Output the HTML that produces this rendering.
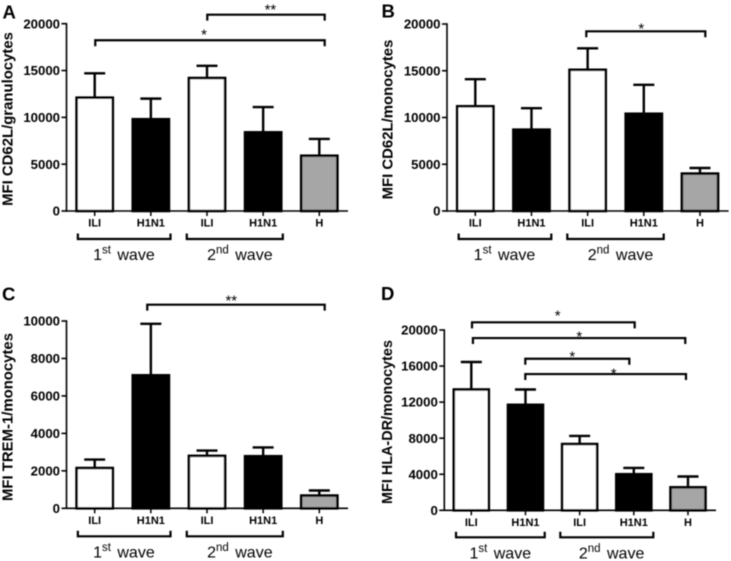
<!DOCTYPE html>
<html lang="en">
<head>
<meta charset="utf-8">
<title>MFI bar charts</title>
<style>
html,body{margin:0;padding:0;background:#fff;}
body{width:731px;height:561px;overflow:hidden;}
svg{display:block;}
text{font-family:"Liberation Sans",sans-serif;fill:#000;}
</style>
</head>
<body>
<svg id="figure" xmlns="http://www.w3.org/2000/svg" width="731" height="561" viewBox="0 0 731 561">
<defs><filter id="soft" x="0" y="0" width="100%" height="100%"><feGaussianBlur stdDeviation="0.4"/></filter></defs>
<g id="root" filter="url(#soft)"></g>
</svg>
<script>
const categories = ['ILI', 'H1N1', 'ILI', 'H1N1', 'H'];

const aTitle = 'MFI CD62L/granulocytes';
const aValues = [12100, 9800, 14200, 8400, 5900];
const aErrorTops = [14700, 12000, 15500, 11100, 7700];
const aTicks = [0, 5000, 10000, 15000, 20000];

const bTitle = 'MFI CD62L/monocytes';
const bValues = [11200, 8700, 15100, 10400, 4000];
const bErrorTops = [14100, 11000, 17400, 13500, 4600];
const bTicks = [0, 5000, 10000, 15000, 20000];

const cTitle = 'MFI TREM-1/monocytes';
const cValues = [2150, 7100, 2800, 2780, 680];
const cErrorTops = [2600, 9850, 3080, 3250, 950];
const cTicks = [0, 2000, 4000, 6000, 8000, 10000];

const dTitle = 'MFI HLA-DR/monocytes';
const dValues = [13400, 11700, 7350, 4000, 2550];
const dErrorTops = [16450, 13400, 8250, 4700, 3750];
const dTicks = [0, 4000, 8000, 12000, 16000, 20000];

const NS = 'http://www.w3.org/2000/svg';
const root = document.getElementById('root');

function make(parent, tag, attrs, name) {
  const el = document.createElementNS(NS, tag);
  for (const k in attrs) el.setAttribute(k, attrs[k]);
  
  
  parent.appendChild(el);
  return el;
}

function drawPanel(p) {
  const panel = make(root, 'g', {}, 'panel-' + p.letter.toLowerCase());
  const maxV = p.ticks[p.ticks.length - 1];
  const y = v => p.y0 - (v / maxV) * (p.y0 - p.yTop);
  const x = i => p.x0 + i * p.step;

  const letter = make(panel, 'text', {x: p.lx, y: p.ly, 'font-size': 18.5, 'font-weight': 'bold'}, 'panel-letter');
  letter.textContent = p.letter;

  p.values.forEach((v, i) => {
    const fill = i === 4 ? '#a6a6a6' : (i % 2 === 0 ? '#fff' : '#000');
    const w = p.barW;
    make(panel, 'line', {x1: x(i), x2: x(i), y1: y(p.tops[i]), y2: y(v), stroke: '#000', 'stroke-width': 2.4}, 'error-bar-' + i);
    make(panel, 'line', {x1: x(i) - 10.5, x2: x(i) + 10.5, y1: y(p.tops[i]), y2: y(p.tops[i]), stroke: '#000', 'stroke-width': 2.4}, 'error-cap-' + i);
    make(panel, 'rect', {x: x(i) - w / 2, y: y(v), width: w, height: p.y0 - y(v), fill: fill, stroke: '#000', 'stroke-width': 2.6}, 'bar-' + i);
    make(panel, 'line', {x1: x(i), x2: x(i), y1: p.y0, y2: p.y0 + 5, stroke: '#000', 'stroke-width': 1.5}, 'x-tick-' + i);
    const lab = make(panel, 'text', {x: x(i), y: p.y0 + 15.7, 'font-size': 11, 'font-weight': 'bold', 'text-anchor': 'middle'}, 'x-label-' + i);
    lab.textContent = categories[i];
  });

  make(panel, 'line', {x1: p.axisX, x2: p.axisX, y1: p.yTop - 0.7, y2: p.y0 + 0.7, stroke: '#000', 'stroke-width': 1.6}, 'y-axis');
  make(panel, 'line', {x1: p.axisX, x2: p.axisEnd, y1: p.y0, y2: p.y0, stroke: '#000', 'stroke-width': 1.6}, 'x-axis');

  p.ticks.forEach(t => {
    make(panel, 'line', {x1: p.axisX - 5, x2: p.axisX, y1: y(t), y2: y(t), stroke: '#000', 'stroke-width': 1.6}, 'y-tick-' + t);
    const lab = make(panel, 'text', {x: p.axisX - 6.5, y: y(t) + 4.6, 'font-size': 13.2, 'font-weight': 'bold', 'text-anchor': 'end'}, 'y-label-' + t);
    lab.textContent = String(t);
  });

  const title = make(panel, 'text', {
    x: 0, y: 0, 'font-size': p.titleSize, 'font-weight': 'bold', 'text-anchor': 'middle',
    transform: 'translate(' + p.titleX + ',' + p.titleY + ') rotate(-90)'
  }, 'y-axis-title');
  title.textContent = p.title;

  p.brackets.forEach((b, n) => {
    const by = y(b.value);
    make(panel, 'path', {
      d: 'M' + x(b.from) + ' ' + (by + 6) + 'V' + by + 'H' + x(b.to) + 'V' + (by + 6),
      fill: 'none', stroke: '#000', 'stroke-width': 2.2
    }, 'significance-bracket-' + n);
    const s = make(panel, 'text', {x: x(b.star), y: by + b.off + 8.7, 'font-size': 15, 'text-anchor': 'middle'}, 'significance-stars-' + n);
    s.textContent = b.mark;
  });

  p.waves.forEach((wv, n) => {
    const wy = p.y0 + p.waveDy;
    make(panel, 'path', {
      d: 'M' + x(wv.from) + ' ' + (wy - 5.5) + 'V' + wy + 'H' + x(wv.to) + 'V' + (wy - 5.5),
      fill: 'none', stroke: '#000', 'stroke-width': 2.2
    }, 'wave-bracket-' + (n + 1));
    const t = make(panel, 'text', {x: x(wv.label), y: p.y0 + p.waveDy + 21, 'font-size': 16, 'text-anchor': 'middle'}, 'wave-label-' + (n + 1));
    const a = document.createElementNS(NS, 'tspan');
    a.textContent = wv.num;
    t.appendChild(a);
    const sup = document.createElementNS(NS, 'tspan');
    sup.setAttribute('dy', '-6.5');
    sup.setAttribute('font-size', '11.5');
    sup.textContent = wv.sup;
    t.appendChild(sup);
    const rest = document.createElementNS(NS, 'tspan');
    rest.setAttribute('dy', '6.5');
    rest.setAttribute('dx', '2');
    rest.textContent = ' wave';
    t.appendChild(rest);
  });
}

drawPanel({
  letter: 'A', lx: 2.5, ly: 18.3, title: aTitle, titleSize: 14.9, titleX: 12.5, titleY: 119,
  values: aValues, tops: aErrorTops, ticks: aTicks,
  axisX: 66.5, axisEnd: 348, y0: 211, yTop: 23.7, x0: 94.7, step: 56.15, barW: 36.2,
  waveDy: 28,
  waves: [{from: -0.3, to: 1.35, label: 0.52, num: '1', sup: 'st'}, {from: 1.64, to: 3.35, label: 2.585, num: '2', sup: 'nd'}],
  brackets: [
    {from: 2.005, to: 4.096, value: 20965, star: 3.13, off: -8.7, mark: '**'},
    {from: 0.01, to: 4.096, value: 18230, star: 1.947, off: -9.3, mark: '*'}
  ]
});

drawPanel({
  letter: 'B', lx: 381.5, ly: 17.5, title: bTitle, titleSize: 14.9, titleX: 392.5, titleY: 119.5,
  values: bValues, tops: bErrorTops, ticks: bTicks,
  axisX: 447, axisEnd: 728.7, y0: 211, yTop: 24, x0: 475.3, step: 56.17, barW: 36.2,
  waveDy: 28,
  waves: [{from: -0.296, to: 1.353, label: 0.52, num: '1', sup: 'st'}, {from: 1.638, to: 3.354, label: 2.585, num: '2', sup: 'nd'}],
  brackets: [
    {from: 1.976, to: 4.095, value: 19219, star: 2.955, off: -6.6, mark: '*'}
  ]
});

drawPanel({
  letter: 'C', lx: 2, ly: 300.7, title: cTitle, titleSize: 14.9, titleX: 12.5, titleY: 417,
  values: cValues, tops: cErrorTops, ticks: cTicks,
  axisX: 66.5, axisEnd: 348, y0: 508.3, yTop: 321, x0: 94.7, step: 56.15, barW: 36.2,
  waveDy: 28,
  waves: [{from: -0.3, to: 1.35, label: 0.52, num: '1', sup: 'st'}, {from: 1.64, to: 3.35, label: 2.585, num: '2', sup: 'nd'}],
  brackets: [
    {from: 0.936, to: 4.096, value: 10872, star: 2.433, off: -8, mark: '**'}
  ]
});

drawPanel({
  letter: 'D', lx: 381, ly: 300, title: dTitle, titleSize: 14.4, titleX: 392, titleY: 422,
  values: dValues, tops: dErrorTops, ticks: dTicks,
  axisX: 444.3, axisEnd: 716, y0: 510.3, yTop: 330, x0: 471.3, step: 54.17, barW: 35,
  waveDy: 27,
  waves: [{from: -0.282, to: 1.355, label: 0.535, num: '1', sup: 'st'}, {from: 1.643, to: 3.36, label: 2.59, num: '2', sup: 'nd'}],
  brackets: [
    {from: 0.013, to: 3.016, value: 20850, star: 1.595, off: -10.3, mark: '*'},
    {from: 0.03, to: 3.95, value: 19108, star: 1.994, off: -5.3, mark: '*'},
    {from: 0.997, to: 2.917, value: 16812, star: 1.864, off: -6, mark: '*'},
    {from: 0.997, to: 3.963, value: 15115, star: 2.629, off: -4, mark: '*'}
  ]
});
</script>
</body>
</html>
